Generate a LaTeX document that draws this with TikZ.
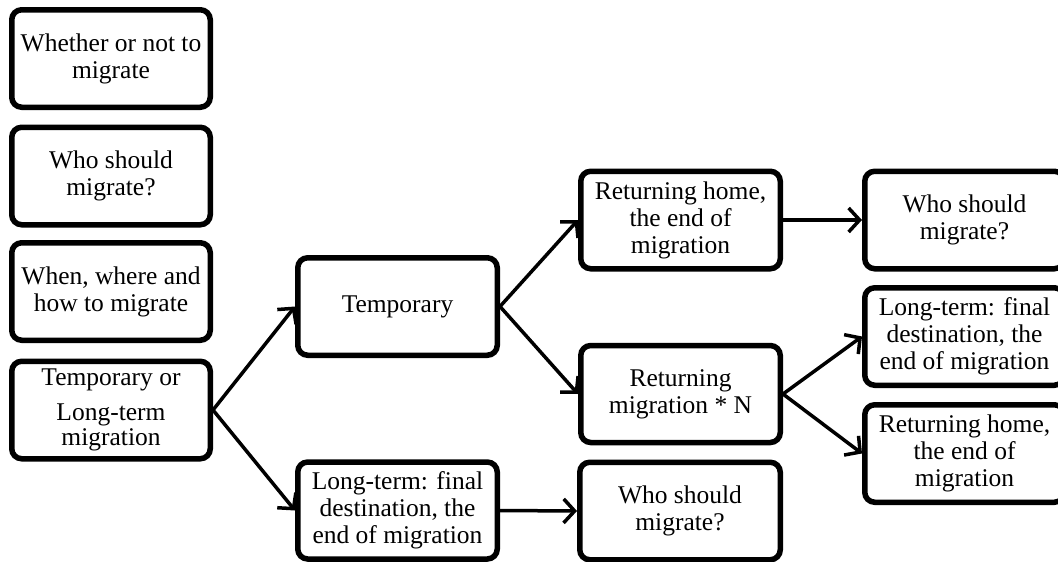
\documentclass[tikz,border=0pt]{standalone}
\usepackage{fontspec}
\setmainfont{Liberation Serif}
\usetikzlibrary{arrows.meta}
\tikzset{
  box/.style={draw=black, line width=5.5pt, rounded corners=10pt, rectangle,
    minimum width=198.5pt, minimum height=97.5pt, inner sep=0pt, align=center,
    font=\fontsize{25.5}{27}\selectfont, fill=white},
  arr/.style={line width=3.5pt, -{Straight Barb[length=11pt,width=24pt,line width=3.5pt]}, shorten <=-1pt}
}
\begin{document}
\begin{tikzpicture}[x=1pt,y=-1pt]
\useasboundingbox (0,0) rectangle (1058,562);
\clip (0,0) rectangle (1058,562);
\fill[white] (0,0) rectangle (1058,562);
\node[box] (b1) at (111,58.5) {Whether or not to\\migrate};
\node[box] (b2) at (111,176) {Who should\\migrate?};
\node[box] (b3) at (111,291.5) {When, where and\\how to migrate};
\node[box] (b4) at (111,410) {Temporary or\\[8pt]Long-term\\[-2pt]migration};
\node[box, minimum width=199.5pt] (temp) at (397.5,306.5) {Temporary};
\node[box, minimum width=199.5pt, minimum height=97pt] (long) at (397.5,510.5) {Long-term: final\\destination, the\\end of migration};
\node[box, minimum width=200.5pt] (whoB) at (680,511) {Who should\\migrate?};
\node[box, minimum width=199.5pt] (rethome) at (680.5,220) {Returning home,\\the end of\\migration};
\node[box, minimum width=199.5pt, minimum height=97pt] (retmig) at (680.5,394) {Returning\\migration * N};
\node[box, minimum width=199.5pt] (whoTR) at (964.5,220) {Who should\\migrate?};
\node[box, minimum width=199.5pt] (longR) at (964.5,336.5) {Long-term: final\\destination, the\\end of migration};
\node[box, minimum width=199.5pt] (rethomeR) at (964.5,453.5) {Returning home,\\the end of\\migration};
\draw[arr] (b4.east) -- (temp.west);
\draw[arr] (b4.east) -- (long.west);
\draw[arr] (temp.east) -- (rethome.west);
\draw[arr] (temp.east) -- (retmig.west);
\draw[arr] (rethome.east) -- (whoTR.west);
\draw[arr] (retmig.east) -- (longR.west);
\draw[arr] (retmig.east) -- (rethomeR.west);
\draw[arr] (long.east) -- (whoB.west);
\end{tikzpicture}
\end{document}
